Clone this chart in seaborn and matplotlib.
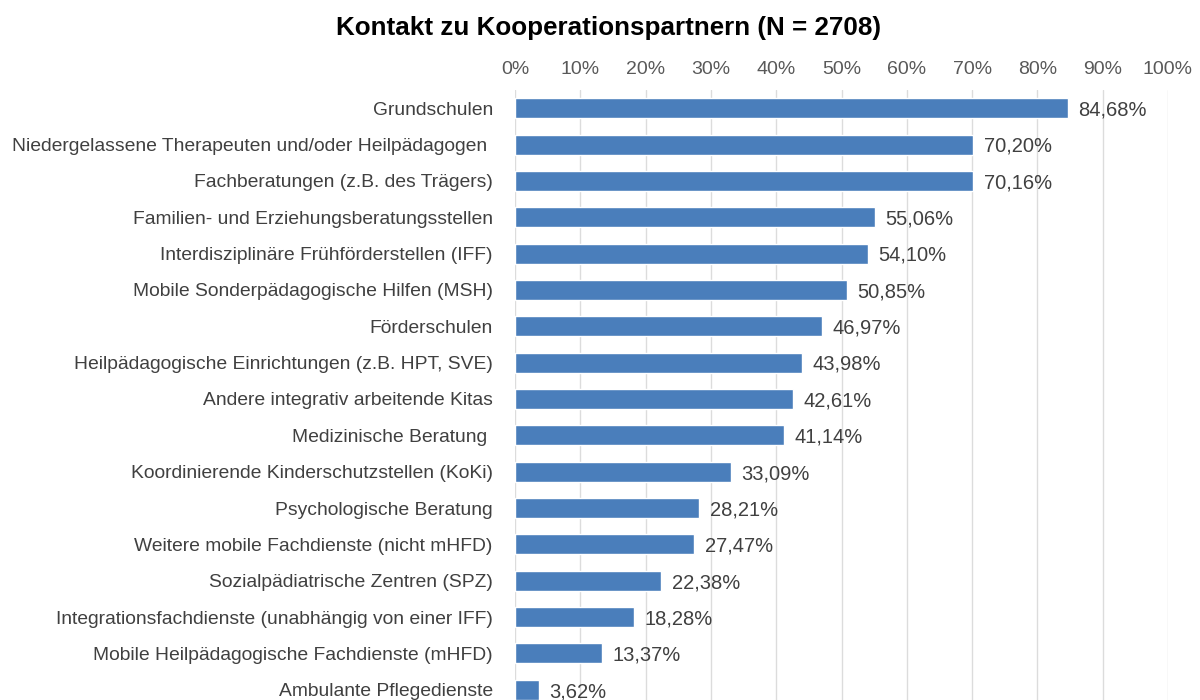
import matplotlib
matplotlib.use("Agg")
import matplotlib.pyplot as plt
import seaborn as sns
import pandas as pd

categories = [
    "Grundschulen",
    "Niedergelassene Therapeuten und/oder Heilpädagogen ",
    "Fachberatungen (z.B. des Trägers)",
    "Familien- und Erziehungsberatungsstellen",
    "Interdisziplinäre Frühförderstellen (IFF)",
    "Mobile Sonderpädagogische Hilfen (MSH)",
    "Förderschulen",
    "Heilpädagogische Einrichtungen (z.B. HPT, SVE)",
    "Andere integrativ arbeitende Kitas",
    "Medizinische Beratung ",
    "Koordinierende Kinderschutzstellen (KoKi)",
    "Psychologische Beratung",
    "Weitere mobile Fachdienste (nicht mHFD)",
    "Sozialpädiatrische Zentren (SPZ)",
    "Integrationsfachdienste (unabhängig von einer IFF)",
    "Mobile Heilpädagogische Fachdienste (mHFD)",
    "Ambulante Pflegedienste",
]
values = [84.68, 70.20, 70.16, 55.06, 54.10, 50.85, 46.97, 43.98, 42.61,
          41.14, 33.09, 28.21, 27.47, 22.38, 18.28, 13.37, 3.62]
tick_values = [0, 10, 20, 30, 40, 50, 60, 70, 80, 90, 100]
tick_labels = [f"{v}%" for v in tick_values]
title = "Kontakt zu Kooperationspartnern (N = 2708)"

sns.set_theme(style="white")
plt.rcParams["font.family"] = ["Liberation Sans", "DejaVu Sans"]

df = pd.DataFrame({"Kategorie": categories, "Wert": values})

fig = plt.figure(figsize=(12, 7), dpi=100)
ax = fig.add_axes([515 / 1200, -8 / 700, 653 / 1200, 618 / 700])

sns.barplot(data=df, y="Kategorie", x="Wert", orient="h", color="#4a7ebb",
            width=0.55, saturation=1, ax=ax, zorder=3)

ax.set_xlim(0, 100)
ax.set_ylim(len(categories) - 0.5, -0.5)
ax.set_xticks(tick_values)
ax.set_xticklabels(tick_labels)
ax.xaxis.tick_top()
ax.tick_params(axis="x", length=0, pad=9, labelsize=14, labelcolor="#595959")
ax.tick_params(axis="y", length=0, pad=16, labelsize=13.9, labelcolor="#404040")
ax.set_xlabel("")
ax.set_ylabel("")
ax.grid(axis="x", color="#dcdcdc", linewidth=1, zorder=0)
ax.grid(axis="y", visible=False)
for s in ax.spines.values():
    s.set_visible(False)

for i, v in enumerate(values):
    ax.text(v + 1.6, i + 0.05, f"{v:.2f}%".replace(".", ","), va="center",
            ha="left", fontsize=14.5, color="#404040")

fig.text(608 / 1200, 1 - 28 / 700, title, ha="center", va="center",
         fontsize=18.7, fontweight="bold", color="#000000")

fig.savefig("out.png", dpi=100)
